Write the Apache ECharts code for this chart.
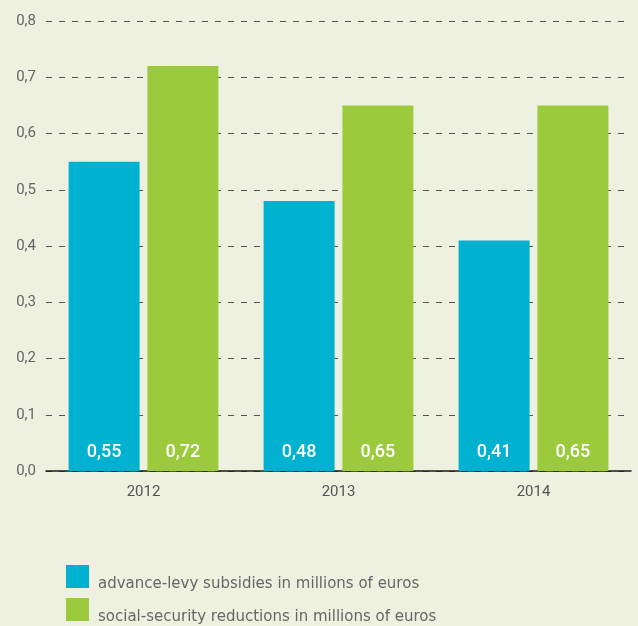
<!DOCTYPE html>
<html>
<head>
<meta charset="utf-8">
<script src="https://cdn.jsdelivr.net/npm/echarts@6/dist/echarts.min.js"></script>
<style>
  html, body { margin: 0; padding: 0; background: #eff1e0; }
  #chart { width: 638px; height: 626px; }
</style>
</head>
<body>
<div id="chart"></div>
<script>
// Years on the x axis
const years = ['2012', '2013', '2014'];
// Values in millions of euros
const advanceLevy = [0.55, 0.48, 0.41];
const socialSecurity = [0.72, 0.65, 0.65];
const seriesNames = [
  'advance-levy subsidies in millions of euros',
  'social-security reductions in millions of euros'
];

const fontFamily = 'Roboto, "DejaVu Sans", sans-serif';
const legendFont = '"DejaVu Sans", Roboto, sans-serif';
const fmt = v => v.toFixed(2).replace('.', ',');

const chart = echarts.init(document.getElementById('chart'), null, { renderer: 'canvas' });

const barLabel = {
  show: true,
  position: 'insideBottom',
  distance: 10,
  color: '#ffffff',
  fontFamily: fontFamily,
  fontSize: 18,
  fontWeight: 500,
  formatter: p => fmt(p.value)
};

// One legend block per series, stacked vertically; the name sits low,
// near the bottom edge of its swatch
const legendBlock = (name, top) => ({
  orient: 'vertical',
  left: 66,
  top: top,
  padding: 0,
  itemWidth: 23,
  itemHeight: 23,
  icon: 'rect',
  data: [name],
  selectedMode: false,
  formatter: n => '{s|}{t|' + n + '}',
  textStyle: {
    color: '#666666',
    fontFamily: legendFont,
    fontSize: 15,
    rich: {
      s: { width: 4, lineHeight: 31 },
      t: {
        color: '#666666',
        fontFamily: legendFont,
        fontSize: 15,
        lineHeight: 18,
        verticalAlign: 'bottom'
      }
    }
  }
});

chart.setOption({
  backgroundColor: '#eff1e0',
  animation: false,
  grid: { left: 46, right: 7, top: 21, bottom: 155 },
  legend: [
    legendBlock(seriesNames[0], 565),
    legendBlock(seriesNames[1], 598)
  ],
  xAxis: {
    type: 'category',
    data: years,
    axisLine: { show: true, lineStyle: { color: '#1a1a1a', width: 1.5 } },
    axisTick: { show: false },
    axisLabel: {
      color: '#555555',
      fontFamily: fontFamily,
      fontSize: 15,
      margin: 14
    }
  },
  yAxis: {
    type: 'value',
    min: 0,
    max: 0.8,
    interval: 0.1,
    axisLine: { show: false },
    axisTick: { show: false },
    axisLabel: {
      color: '#666666',
      fontFamily: fontFamily,
      fontSize: 15,
      margin: 10,
      formatter: v => v.toFixed(1).replace('.', ',')
    },
    splitLine: {
      show: true,
      lineStyle: { color: '#555555', type: [6, 7], width: 1 }
    }
  },
  series: [
    {
      name: seriesNames[0],
      type: 'bar',
      data: advanceLevy,
      barWidth: 71,
      barGap: '11%',
      itemStyle: { color: '#00b2d0' },
      label: barLabel
    },
    {
      name: seriesNames[1],
      type: 'bar',
      data: socialSecurity,
      barWidth: 71,
      itemStyle: { color: '#9bca3c' },
      label: barLabel
    }
  ]
});
</script>
</body>
</html>
